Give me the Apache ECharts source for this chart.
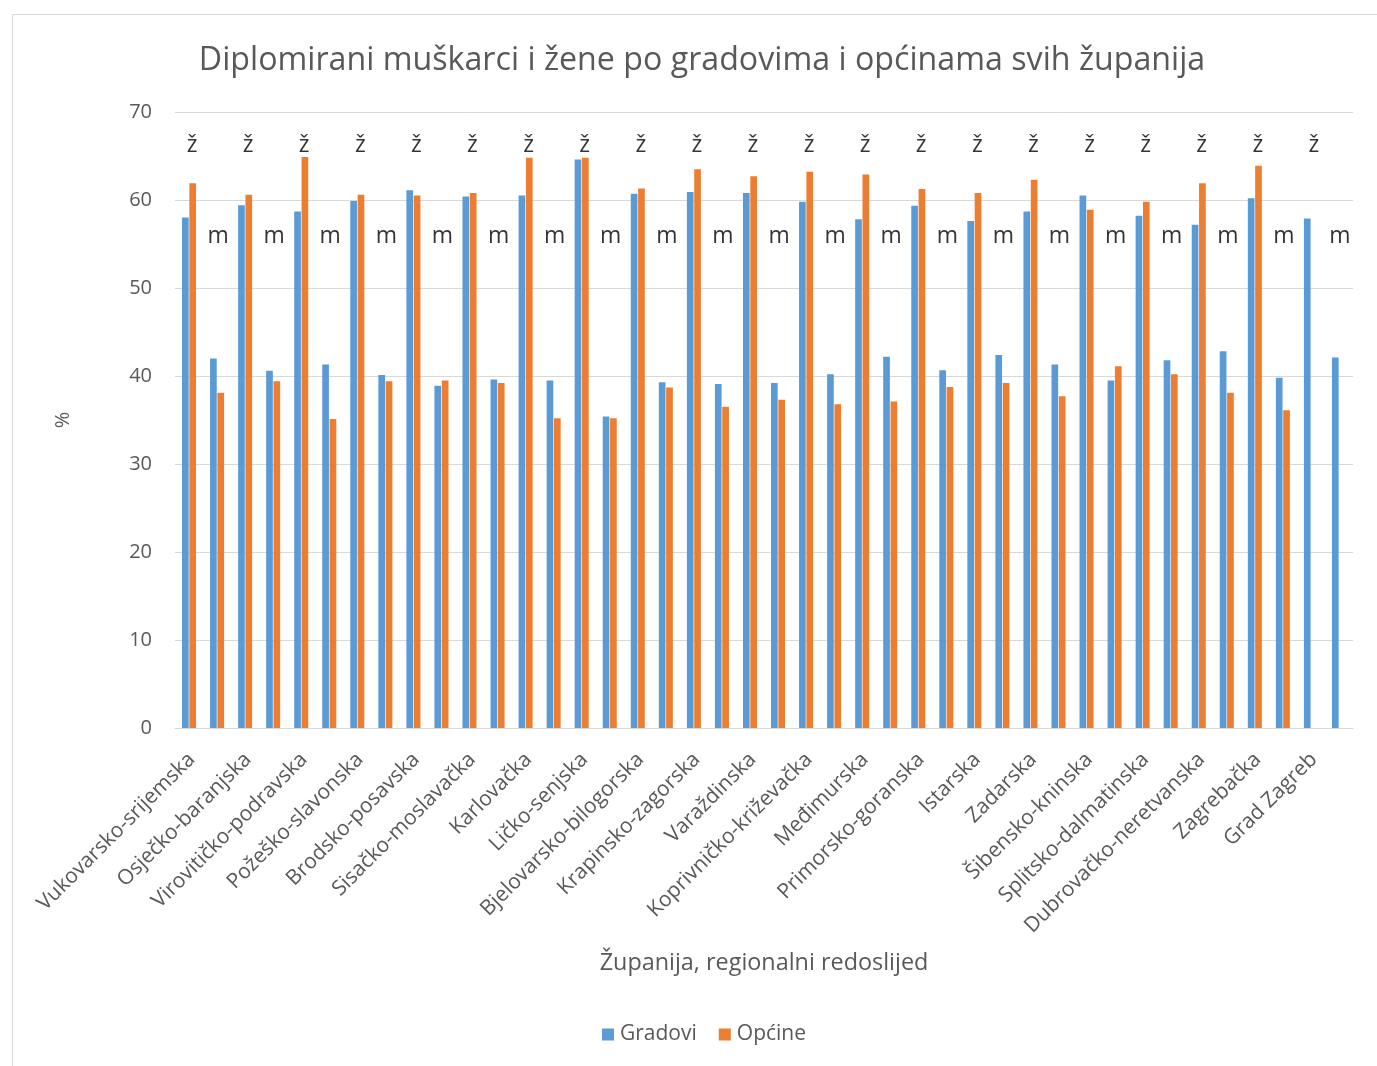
<!DOCTYPE html>
<html>
<head>
<meta charset="utf-8">
<script src="https://cdn.jsdelivr.net/npm/echarts@6/dist/echarts.min.js"></script>
<style>
html,body{margin:0;padding:0;background:#fff;}
#chart{width:1377px;height:1066px;}
</style>
</head>
<body>
<div id="chart"></div>
<script>
// ---- data ----
const counties = [
  'Vukovarsko-srijemska','Osječko-baranjska','Virovitičko-podravska','Požeško-slavonska',
  'Brodsko-posavska','Sisačko-moslavačka','Karlovačka','Ličko-senjska','Bjelovarsko-bilogorska',
  'Krapinsko-zagorska','Varaždinska','Koprivničko-križevačka','Međimurska','Primorsko-goranska',
  'Istarska','Zadarska','Šibensko-kninska','Splitsko-dalmatinska','Dubrovačko-neretvanska',
  'Zagrebačka','Grad Zagreb'
];
const sexMarks = ['ž', 'm'];
const gradoviZ = [58.0,59.4,58.7,59.9,61.1,60.4,60.5,64.6,60.7,60.9,60.8,59.8,57.8,59.35,57.6,58.7,60.5,58.2,57.2,60.2,57.9];
const gradoviM = [42.0,40.6,41.3,40.1,38.9,39.6,39.5,35.4,39.3,39.1,39.2,40.2,42.2,40.65,42.4,41.3,39.5,41.8,42.8,39.8,42.1];
const opcineZ  = [61.9,60.6,64.9,60.6,60.5,60.8,64.8,64.8,61.3,63.5,62.7,63.2,62.9,61.25,60.8,62.3,58.9,59.8,61.9,63.9,null];
const opcineM  = [38.1,39.4,35.1,39.4,39.5,39.2,35.2,35.2,38.7,36.5,37.3,36.8,37.1,38.75,39.2,37.7,41.1,40.2,38.1,36.1,null];
const yTicks = [0,10,20,30,40,50,60,70];

// ---- build 42 slots (ž, m per county) ----
const xLabels = [], gradovi = [], opcine = [], marks = [];
const markLevel = {'ž': 66.25, 'm': 55.85};
const markShift = {'ž': [3, 0], 'm': [1, 0]};
counties.forEach((c, i) => {
  xLabels.push(c); xLabels.push('');
  gradovi.push(gradoviZ[i]); gradovi.push(gradoviM[i]);
  opcine.push(opcineZ[i]); opcine.push(opcineM[i]);
  sexMarks.forEach((s, k) => marks.push({value: [i * 2 + k, markLevel[s]], name: s,
    label: {offset: markShift[s]}}));
});

const FONT = '"Open Sans"';
const chart = echarts.init(document.getElementById('chart'), null, {renderer: 'canvas'});
chart.setOption({
  animation: false,
  backgroundColor: '#fff',
  textStyle: {fontFamily: FONT},
  graphic: [{
    type: 'rect', shape: {x: 12.5, y: 14.5, width: 1420, height: 1100},
    style: {fill: 'none', stroke: '#d9d9d9', lineWidth: 1}, silent: true
  }],
  title: {
    text: 'Diplomirani muškarci i žene po gradovima i općinama svih županija',
    left: 697, top: 40, textAlign: 'center',
    textStyle: {fontFamily: FONT, fontSize: 32.2, fontWeight: 'normal', color: '#595959'}
  },
  legend: {
    data: ['Gradovi', 'Općine'], left: 597, top: 1019,
    icon: 'rect', itemWidth: 12, itemHeight: 12, itemGap: 22,
    textStyle: {fontFamily: FONT, fontSize: 21, color: '#595959', padding: [0, 0, 0, 1]}
  },
  grid: {left: 175, right: 24, top: 112, bottom: 338, containLabel: false},
  xAxis: {
    type: 'category', data: xLabels,
    name: 'Županija, regionalni redoslijed', nameLocation: 'middle', nameGap: 224,
    nameTextStyle: {fontFamily: FONT, fontSize: 23.4, color: '#595959'},
    axisTick: {show: false},
    axisLine: {lineStyle: {color: '#d9d9d9', width: 1}},
    axisLabel: {interval: 0, rotate: 45, margin: 31, padding: [0, -4, 0, 0],
      fontFamily: FONT, fontSize: 21, color: '#595959'}
  },
  yAxis: {
    type: 'value', min: yTicks[0], max: yTicks[yTicks.length - 1], interval: 10,
    name: '%', nameLocation: 'middle', nameGap: 102, nameRotate: 90,
    nameTextStyle: {fontFamily: FONT, fontSize: 20, color: '#595959'},
    axisLine: {show: false}, axisTick: {show: false},
    splitLine: {lineStyle: {color: '#d9d9d9', width: 1}},
    axisLabel: {margin: 23, fontFamily: FONT, fontSize: 20, color: '#595959'}
  },
  series: [
    {name: 'Gradovi', type: 'bar', data: gradovi, barCategoryGap: '50%', barGap: '10%',
      itemStyle: {color: '#5B9BD5'}},
    {name: 'Općine', type: 'bar', data: opcine, barCategoryGap: '50%', barGap: '10%',
      itemStyle: {color: '#ED7D31'}},
    {name: 'marks', type: 'scatter', data: marks, symbolSize: 0, silent: true,
      label: {show: true, position: 'inside', formatter: p => p.name,
        fontFamily: FONT, fontSize: 23, color: '#000'}}
  ]
});
</script>
</body>
</html>
